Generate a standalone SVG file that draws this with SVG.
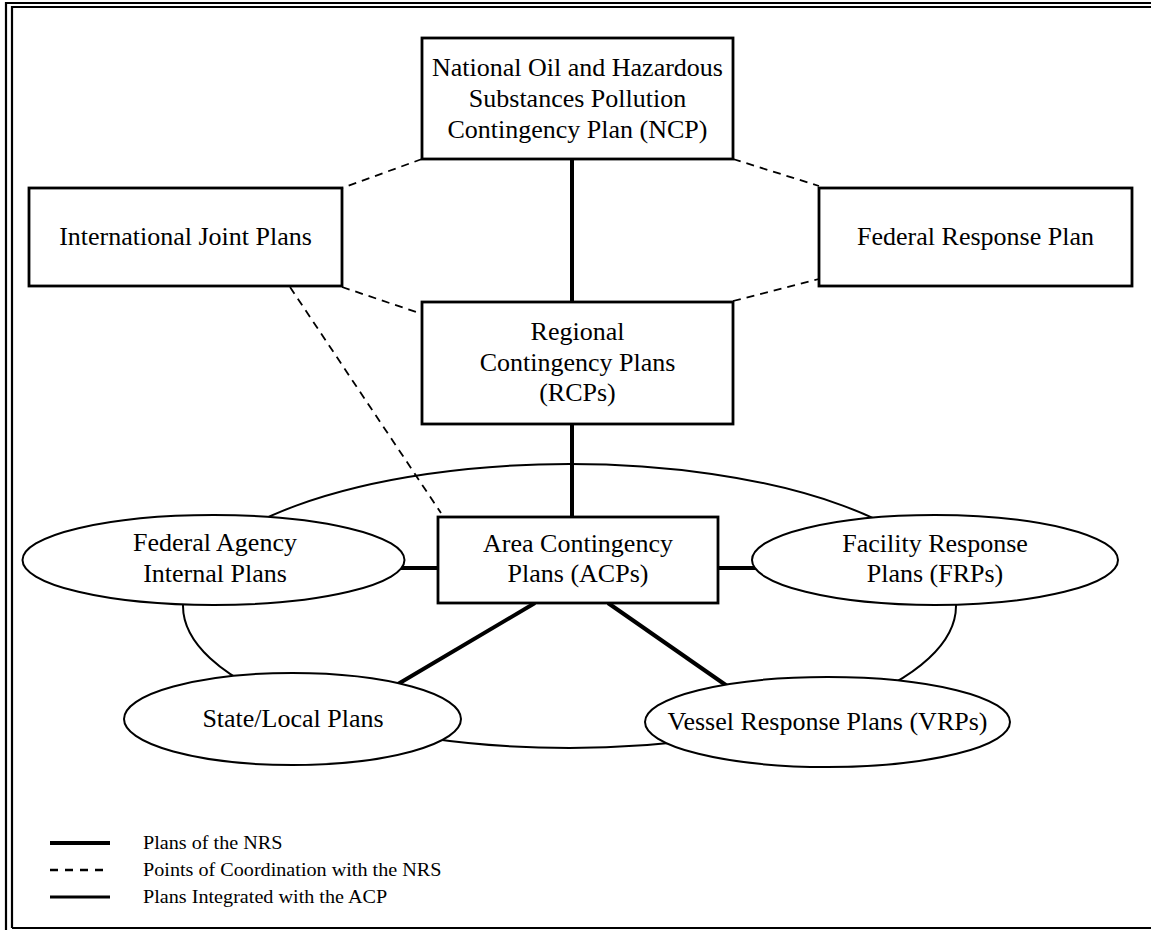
<svg xmlns="http://www.w3.org/2000/svg" width="1151" height="930" viewBox="0 0 1151 930">
<style>
  .box { fill: #fff; stroke: #000; stroke-width: 2.8; }
  .ell { fill: #fff; stroke: #000; stroke-width: 2; }
  .t { font-family: "Liberation Serif", "Times New Roman", serif; font-size: 26px; fill: #000; text-anchor: middle; }
  .lg { font-family: "Liberation Serif", "Times New Roman", serif; font-size: 18px; fill: #000; }
  .thick { stroke: #000; stroke-width: 4; fill: none; }
  .dash { stroke: #000; stroke-width: 1.8; stroke-dasharray: 8 6; fill: none; }
  .ring { stroke: #000; stroke-width: 2; fill: none; }
  .frame { stroke: #000; stroke-width: 2.2; fill: none; }
</style>
<rect x="0" y="0" width="1151" height="930" fill="#fff"/>
<g id="frame">
  <path class="frame" d="M6,930 V3 H1151"/>
  <path class="frame" d="M12,928 V7 H1151"/>
  <path class="frame" d="M12,928 H1151"/>
</g>
<g id="connectors">
  <ellipse class="ring" cx="569.5" cy="606" rx="386.5" ry="142"/>
  <line class="thick" x1="572" y1="159" x2="572" y2="302"/>
  <line class="thick" x1="572" y1="424" x2="572" y2="517"/>
  <line class="thick" x1="400" y1="568" x2="438" y2="568"/>
  <line class="thick" x1="718" y1="568" x2="765" y2="568"/>
  <line class="thick" x1="535" y1="603" x2="398" y2="684"/>
  <line class="thick" x1="608" y1="603" x2="730" y2="688"/>
  <line class="dash" x1="422" y1="159" x2="342" y2="188"/>
  <line class="dash" x1="342" y1="287" x2="422" y2="314"/>
  <line class="dash" x1="733" y1="159" x2="819" y2="186"/>
  <line class="dash" x1="733" y1="301" x2="819" y2="279"/>
  <line class="dash" x1="290" y1="287" x2="441" y2="513"/>
</g>
<g id="ncp">
  <rect class="box" x="422" y="38" width="311" height="121"/>
  <text class="t" x="577.5" y="76">National Oil and Hazardous</text>
  <text class="t" x="577.5" y="107">Substances Pollution</text>
  <text class="t" x="577.5" y="138">Contingency Plan (NCP)</text>
</g>
<g id="international">
  <rect class="box" x="29" y="188" width="313" height="98"/>
  <text class="t" x="185.5" y="245">International Joint Plans</text>
</g>
<g id="frp">
  <rect class="box" x="819" y="188" width="313" height="98"/>
  <text class="t" x="975.5" y="245">Federal Response Plan</text>
</g>
<g id="rcp">
  <rect class="box" x="422" y="302" width="311" height="122"/>
  <text class="t" x="577.5" y="340">Regional</text>
  <text class="t" x="577.5" y="371">Contingency Plans</text>
  <text class="t" x="577.5" y="401">(RCPs)</text>
</g>
<g id="acp">
  <rect class="box" x="438" y="517" width="280" height="86"/>
  <text class="t" x="578" y="552">Area Contingency</text>
  <text class="t" x="578" y="582">Plans (ACPs)</text>
</g>
<g id="federal-agency">
  <ellipse class="ell" cx="213.5" cy="560" rx="191" ry="45"/>
  <text class="t" x="215" y="551">Federal Agency</text>
  <text class="t" x="215" y="582">Internal Plans</text>
</g>
<g id="facility">
  <ellipse class="ell" cx="935" cy="560" rx="183" ry="45"/>
  <text class="t" x="935" y="552">Facility Response</text>
  <text class="t" x="935" y="582">Plans (FRPs)</text>
</g>
<g id="state-local">
  <ellipse class="ell" cx="292.5" cy="719" rx="168.5" ry="46"/>
  <text class="t" x="293" y="727">State/Local Plans</text>
</g>
<g id="vessel">
  <ellipse class="ell" cx="827.5" cy="722" rx="182.5" ry="45"/>
  <text class="t" x="827.5" y="730">Vessel Response Plans (VRPs)</text>
</g>
<g id="legend">
  <line class="thick" x1="50" y1="843" x2="110" y2="843"/>
  <text class="lg" transform="translate(143,849) scale(1.12,1)">Plans of the NRS</text>
  <line stroke="#000" stroke-width="2.5" stroke-dasharray="8 7" x1="50" y1="870" x2="110" y2="870"/>
  <text class="lg" transform="translate(143,876) scale(1.12,1)">Points of Coordination with the NRS</text>
  <line stroke="#000" stroke-width="3" x1="50" y1="897" x2="110" y2="897"/>
  <text class="lg" transform="translate(143,903) scale(1.12,1)">Plans Integrated with the ACP</text>
</g>
</svg>
